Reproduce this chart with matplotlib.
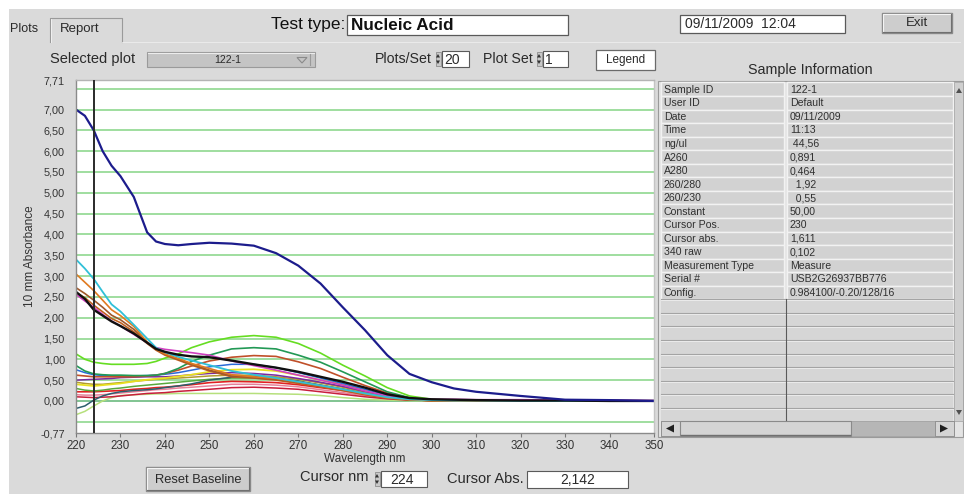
import matplotlib
matplotlib.use('Agg')
import matplotlib.pyplot as plt
from matplotlib.patches import Rectangle, Polygon
import matplotlib.ticker as mticker

plt.rcParams['font.family'] = ['Liberation Sans', 'DejaVu Sans']

# ---------------- data ----------------
wavelength = [220, 222, 224, 226, 228, 230, 233, 236, 238, 240, 243, 246, 250, 255,
              260, 265, 270, 275, 280, 285, 290, 295, 300, 305, 310, 320, 330, 340, 350]

abs_navy    = [7.00, 6.85, 6.50, 6.00, 5.65, 5.40, 4.90, 4.05, 3.83, 3.77, 3.74, 3.77, 3.80, 3.78,
               3.73, 3.55, 3.25, 2.82, 2.25, 1.70, 1.10, 0.65, 0.45, 0.30, 0.22, 0.12, 0.03, 0.02, 0.00]
abs_cyan    = [3.40, 3.18, 2.93, 2.62, 2.32, 2.15, 1.83, 1.50, 1.28, 1.17, 1.06, 0.97, 0.86, 0.72,
               0.63, 0.55, 0.46, 0.37, 0.28, 0.18, 0.09, 0.04, 0.02, 0.01, 0.01, 0.00, 0.00, 0.00, 0.00]
abs_orange  = [3.05, 2.85, 2.65, 2.42, 2.19, 2.05, 1.79, 1.42, 1.25, 1.13, 1.02, 0.90, 0.78, 0.63,
               0.58, 0.54, 0.46, 0.37, 0.28, 0.17, 0.08, 0.03, 0.01, 0.01, 0.00, 0.00, 0.00, 0.00, 0.00]
abs_brown   = [2.72, 2.58, 2.42, 2.25, 2.06, 1.95, 1.72, 1.40, 1.25, 1.12, 1.00, 0.88, 0.74, 0.60,
               0.56, 0.52, 0.45, 0.36, 0.27, 0.17, 0.08, 0.03, 0.01, 0.01, 0.00, 0.00, 0.00, 0.00, 0.00]
abs_rust    = [2.60, 2.48, 2.30, 2.14, 1.98, 1.88, 1.66, 1.38, 1.22, 1.10, 0.98, 0.86, 0.72, 0.58,
               0.55, 0.50, 0.42, 0.34, 0.25, 0.15, 0.07, 0.03, 0.01, 0.01, 0.00, 0.00, 0.00, 0.00, 0.00]
abs_black   = [2.62, 2.45, 2.19, 2.05, 1.91, 1.80, 1.62, 1.40, 1.25, 1.18, 1.11, 1.07, 1.05, 0.97,
               0.88, 0.80, 0.70, 0.58, 0.46, 0.32, 0.16, 0.07, 0.04, 0.03, 0.02, 0.01, 0.01, 0.00, 0.00]
abs_magenta = [2.56, 2.40, 2.25, 2.08, 1.92, 1.80, 1.60, 1.40, 1.28, 1.24, 1.20, 1.16, 1.10, 0.96,
               0.85, 0.74, 0.62, 0.50, 0.38, 0.24, 0.12, 0.06, 0.04, 0.04, 0.03, 0.03, 0.02, 0.02, 0.01]
abs_lime    = [1.13, 1.00, 0.93, 0.90, 0.88, 0.88, 0.88, 0.90, 0.95, 1.03, 1.13, 1.28, 1.42, 1.53,
               1.57, 1.53, 1.38, 1.15, 0.86, 0.60, 0.32, 0.12, 0.04, 0.02, 0.01, 0.00, 0.00, 0.00, 0.00]
abs_teal    = [0.85, 0.72, 0.65, 0.63, 0.62, 0.62, 0.61, 0.61, 0.62, 0.66, 0.78, 0.95, 1.10, 1.25,
               1.28, 1.25, 1.10, 0.93, 0.70, 0.46, 0.22, 0.08, 0.03, 0.01, 0.00, 0.00, 0.00, 0.00, 0.00]
abs_sienna  = [0.62, 0.60, 0.58, 0.58, 0.58, 0.58, 0.58, 0.60, 0.62, 0.66, 0.74, 0.84, 0.96, 1.05,
               1.09, 1.07, 0.94, 0.78, 0.57, 0.37, 0.19, 0.07, 0.02, 0.01, 0.00, 0.00, 0.00, 0.00, 0.00]
abs_yellow  = [0.40, 0.38, 0.36, 0.38, 0.40, 0.42, 0.47, 0.51, 0.53, 0.55, 0.59, 0.63, 0.70, 0.75,
               0.76, 0.72, 0.62, 0.50, 0.40, 0.26, 0.13, 0.05, 0.02, 0.01, 0.00, 0.00, 0.00, 0.00, 0.00]
abs_blue    = [0.75, 0.68, 0.63, 0.61, 0.60, 0.60, 0.60, 0.61, 0.62, 0.64, 0.68, 0.74, 0.82, 0.88,
               0.88, 0.80, 0.68, 0.55, 0.42, 0.28, 0.14, 0.06, 0.02, 0.01, 0.00, 0.00, 0.00, 0.00, 0.00]
abs_purple  = [0.50, 0.51, 0.52, 0.53, 0.54, 0.56, 0.57, 0.58, 0.58, 0.58, 0.60, 0.63, 0.66, 0.68,
               0.66, 0.62, 0.54, 0.45, 0.35, 0.23, 0.12, 0.05, 0.02, 0.01, 0.00, 0.00, 0.00, 0.00, 0.00]
abs_red     = [0.22, 0.22, 0.22, 0.23, 0.24, 0.25, 0.28, 0.30, 0.32, 0.33, 0.36, 0.39, 0.44, 0.47,
               0.46, 0.44, 0.39, 0.32, 0.25, 0.16, 0.08, 0.03, 0.01, 0.00, 0.00, 0.00, 0.00, 0.00, 0.00]
abs_crimson = [0.10, 0.09, 0.08, 0.09, 0.10, 0.12, 0.15, 0.18, 0.19, 0.20, 0.23, 0.25, 0.28, 0.32,
               0.33, 0.31, 0.28, 0.22, 0.16, 0.10, 0.05, 0.02, 0.01, 0.00, 0.00, 0.00, 0.00, 0.00, 0.00]
abs_slate   = [-0.18, -0.12, 0.02, 0.12, 0.18, 0.22, 0.25, 0.27, 0.29, 0.32, 0.36, 0.41, 0.50, 0.57,
               0.58, 0.55, 0.48, 0.38, 0.28, 0.17, 0.08, 0.03, 0.01, 0.00, 0.00, 0.00, 0.00, 0.00, 0.00]
abs_pale    = [-0.33, -0.25, -0.12, 0.00, 0.08, 0.13, 0.15, 0.16, 0.17, 0.17, 0.18, 0.18, 0.18, 0.18,
               0.18, 0.17, 0.16, 0.13, 0.08, 0.04, 0.02, 0.01, 0.00, 0.00, 0.00, 0.00, 0.00, 0.00, 0.00]
abs_olive   = [0.45, 0.42, 0.40, 0.40, 0.42, 0.44, 0.47, 0.50, 0.52, 0.53, 0.55, 0.57, 0.60, 0.62,
               0.62, 0.58, 0.52, 0.43, 0.33, 0.21, 0.10, 0.04, 0.01, 0.00, 0.00, 0.00, 0.00, 0.00, 0.00]
abs_green2  = [0.30, 0.26, 0.24, 0.26, 0.29, 0.31, 0.35, 0.38, 0.40, 0.42, 0.45, 0.48, 0.52, 0.55,
               0.55, 0.52, 0.46, 0.38, 0.29, 0.19, 0.09, 0.03, 0.01, 0.00, 0.00, 0.00, 0.00, 0.00, 0.00]
abs_pink    = [0.15, 0.14, 0.14, 0.15, 0.17, 0.19, 0.22, 0.25, 0.27, 0.28, 0.31, 0.33, 0.36, 0.40,
               0.40, 0.38, 0.34, 0.27, 0.20, 0.13, 0.06, 0.03, 0.01, 0.00, 0.00, 0.00, 0.00, 0.00, 0.00]

x_ticks = [220, 230, 240, 250, 260, 270, 280, 290, 300, 310, 320, 330, 340, 350]
y_ticks = [-0.77, 0.0, 0.5, 1.0, 1.5, 2.0, 2.5, 3.0, 3.5, 4.0, 4.5, 5.0, 5.5, 6.0, 6.5, 7.0, 7.71]
cursor_nm = 224
cursor_abs = "2,142"

info_labels = ["Sample ID", "User ID", "Date", "Time", "ng/ul", "A260", "A280", "260/280",
               "260/230", "Constant", "Cursor Pos.", "Cursor abs.", "340 raw",
               "Measurement Type", "Serial #", "Config."]
info_values = ["122-1", "Default", "09/11/2009", "11:13", " 44,56", "0,891", "0,464", "  1,92",
               "  0,55", "50,00", "230", "1,611", "0,102", "Measure", "USB2G26937BB776",
               "0.984100/-0.20/128/16"]

# (series, colour, linewidth) in draw order
series = [
    (abs_pale, '#b6e07c', 1.1), (abs_pink, '#e8809a', 1.1), (abs_crimson, '#c81e3c', 1.1),
    (abs_red, '#e02222', 1.2), (abs_green2, '#58a83c', 1.1), (abs_slate, '#2c5e6c', 1.1),
    (abs_olive, '#b09a30', 1.1), (abs_purple, '#7a2aa0', 1.1), (abs_yellow, '#e8e020', 1.3),
    (abs_blue, '#2a6ad8', 1.1), (abs_sienna, '#c0502a', 1.2), (abs_teal, '#229955', 1.2),
    (abs_lime, '#66dd22', 1.2), (abs_rust, '#c06020', 1.2), (abs_brown, '#a0582a', 1.2),
    (abs_orange, '#e07a20', 1.2), (abs_magenta, '#d040c0', 1.2), (abs_cyan, '#30c0d8', 1.3),
    (abs_black, '#101010', 1.7), (abs_navy, '#1c1c8c', 1.6),
]

# ---------------- figure ----------------
W, H = 964, 494
fig = plt.figure(figsize=(W / 100, H / 100), dpi=100)
fig.patch.set_facecolor('white')

ui = fig.add_axes([0, 0, 1, 1])
ui.set_xlim(0, W)
ui.set_ylim(H, 0)
ui.axis('off')

PANEL = '#dadada'
TXT = '#2a2a2a'
ui.add_patch(Rectangle((9, 9), W - 9, H - 9, fc=PANEL, ec='none'))


def rect(x0, y0, x1, y1, fc='white', ec='#6a6a6a', lw=0.8, z=1):
    ui.add_patch(Rectangle((x0, y0), x1 - x0, y1 - y0, fc=fc, ec=ec, lw=lw, zorder=z))


def button(x0, y0, x1, y1, label, size=7.5):
    rect(x0, y0, x1, y1, fc='#cdcdcd', ec='#8a8a8a', lw=1.0)
    ui.plot([x0 + 1, x0 + 1, x1 - 1], [y1 - 1, y0 + 1, y0 + 1], color='#f4f4f4', lw=0.8, zorder=2)
    ui.plot([x0 + 1, x1 - 1, x1 - 1], [y1 - 1, y1 - 1, y0 + 1], color='#707070', lw=0.8, zorder=2)
    ui.text((x0 + x1) / 2, (y0 + y1) / 2 + 0.5, label, ha='center', va='center', fontsize=size,
            color=TXT, zorder=3)


def spinner(x, y0, y1):
    ym = (y0 + y1) / 2
    ui.add_patch(Rectangle((x - 2.5, y0 + 1), 5, y1 - y0 - 2, fc='#c8c8c8', ec='#808080', lw=0.5, zorder=2))
    ui.add_patch(Polygon([(x - 2, ym - 1.5), (x + 2, ym - 1.5), (x, ym - 5)], closed=True,
                         fc='#303030', ec='none', zorder=3))
    ui.add_patch(Polygon([(x - 2, ym + 1.5), (x + 2, ym + 1.5), (x, ym + 5)], closed=True,
                         fc='#303030', ec='none', zorder=3))


# tabs
ui.text(10, 29, 'Plots', fontsize=9, color=TXT, va='center')
ui.plot([50, 50, 122, 122], [42, 18, 18, 42], color='#9a9a9a', lw=0.8)
ui.plot([51, 51], [19, 42], color='#f4f4f4', lw=0.6)
ui.text(60, 29, 'Report', fontsize=9.5, color=TXT, va='center')
ui.plot([122, 960], [42, 42], color='#eeeeee', lw=0.6)

# test type
ui.text(345, 24, 'Test type:', fontsize=12.5, color='#111111', ha='right', va='center')
rect(347, 15, 568, 35, fc='white', ec='#5a5a5a', lw=0.9)
ui.text(351, 25.5, 'Nucleic Acid', fontsize=12.3, fontweight='bold', color='#111111', va='center')

# date and exit
rect(680, 15, 845, 33, fc='white', ec='#5a5a5a', lw=0.9)
ui.text(685, 24.5, '09/11/2009  12:04', fontsize=10, color=TXT, va='center')
button(882, 13, 952, 33, 'Exit', size=9.5)

# row 2 controls
ui.text(50, 59, 'Selected plot', fontsize=10.5, color=TXT, va='center')
rect(147, 52, 315, 67, fc='#c4c4c4', ec='#9a9a9a', lw=0.8)
ui.plot([148, 314], [53, 53], color='#ececec', lw=0.8)
ui.text(228, 60, '122-1', fontsize=7.5, color=TXT, ha='center', va='center')
ui.add_patch(Polygon([(297, 57.5), (307, 57.5), (302, 63)], closed=True, fc='none', ec='#8a8a8a', lw=0.8))
ui.plot([310, 310], [54, 65], color='#9a9a9a', lw=0.8)

ui.text(375, 59, 'Plots/Set', fontsize=10.2, color=TXT, va='center')
spinner(438, 51, 67)
rect(442, 51, 469, 67, fc='white', ec='#5a5a5a', lw=0.8)
ui.text(444, 59.5, '20', fontsize=10, color=TXT, va='center')

ui.text(483, 59, 'Plot Set', fontsize=10.2, color=TXT, va='center')
spinner(539, 51, 67)
rect(543, 51, 568, 67, fc='white', ec='#5a5a5a', lw=0.8)
ui.text(545, 59.5, '1', fontsize=10, color=TXT, va='center')

rect(596, 50, 655, 70, fc='white', ec='#6a6a6a', lw=0.9)
ui.text(625.5, 60.5, 'Legend', fontsize=8.5, color=TXT, ha='center', va='center')

# sample information table
ui.text(810, 70, 'Sample Information', fontsize=10.3, color=TXT, ha='center', va='center')
rect(658, 81, 963, 437, fc='#e4e4e4', ec='#9a9a9a', lw=0.8)
row_h = 13.55
top = 82.5
n_rows = 25
for i in range(n_rows):
    y0 = top + i * row_h
    if i < len(info_labels):
        rect(661, y0, 784, y0 + row_h, fc='#d2d2d2', ec='#f2f2f2', lw=1.0)
        rect(787, y0, 953, y0 + row_h, fc='#d2d2d2', ec='#f2f2f2', lw=1.0)
        ui.text(664, y0 + row_h / 2 + 0.5, info_labels[i], fontsize=7.6, color='#303030', va='center')
        ui.text(790, y0 + row_h / 2 + 0.5, info_values[i], fontsize=7.6, color='#303030', va='center')
    else:
        rect(661, y0, 953, y0 + row_h, fc='#d6d6d6', ec='none', lw=0)
        ui.plot([661, 953], [y0, y0], color='#a4a4a4', lw=0.8)
        ui.plot([661, 953], [y0 + 1, y0 + 1], color='#efefef', lw=0.6)
ui.plot([785.5, 785.5], [top + 16 * row_h, 420], color='#5a5a5a', lw=0.8)
# vertical scrollbar
rect(954, 82, 963, 421, fc='#cfcfcf', ec='#a0a0a0', lw=0.5)
ui.add_patch(Polygon([(956, 93), (962, 93), (959, 88)], closed=True, fc='#505050', ec='none', zorder=3))
ui.add_patch(Polygon([(956, 410), (962, 410), (959, 415)], closed=True, fc='#505050', ec='none', zorder=3))
# horizontal scrollbar
rect(661, 421, 954, 436, fc='#b6b6b6', ec='#a0a0a0', lw=0.6)
rect(661, 421, 680, 436, fc='#d4d4d4', ec='#8a8a8a', lw=0.6)
ui.add_patch(Polygon([(666, 428.5), (674, 424.5), (674, 432.5)], closed=True, fc='#202020', ec='none', zorder=3))
rect(680, 421, 851, 436, fc='#d4d4d4', ec='#8a8a8a', lw=0.8)
ui.plot([681, 850], [434.5, 434.5], color='#707070', lw=1.0)
rect(935, 421, 954, 436, fc='#d4d4d4', ec='#8a8a8a', lw=0.6)
ui.add_patch(Polygon([(948, 428.5), (940, 424.5), (940, 432.5)], closed=True, fc='#202020', ec='none', zorder=3))

# bottom controls
button(146, 467, 250, 491, 'Reset Baseline', size=9.3)
ui.text(300, 477, 'Cursor nm', fontsize=10.5, color=TXT, va='center')
spinner(377, 471, 487)
rect(381, 471, 427, 487, fc='white', ec='#5a5a5a', lw=0.8)
ui.text(390, 479.5, str(cursor_nm), fontsize=10, color=TXT, va='center')
ui.text(447, 479, 'Cursor Abs.', fontsize=10.5, color=TXT, va='center')
rect(527, 471, 628, 488, fc='white', ec='#5a5a5a', lw=0.8)
ui.text(577.5, 480, cursor_abs, fontsize=10, color=TXT, ha='center', va='center')

# ---------------- plot ----------------
L, R, T, B = 76, 654, 80, 433
ax = fig.add_axes([L / W, 1 - B / H, (R - L) / W, (B - T) / H])
ax.set_facecolor('white')
ax.set_xlim(220, 350)
ax.set_ylim(-0.77, 7.71)

ax.yaxis.set_minor_locator(mticker.MultipleLocator(0.5))
ax.yaxis.remove_overlapping_locs = False
ax.grid(which='minor', axis='y', color='#8fd88f', lw=1.2, zorder=0)
ax.axhline(0, color='#3558a8', lw=1.3, zorder=1)

for vals, col, lw in series:
    ax.plot(wavelength, vals, color=col, lw=lw, zorder=2)

ax.axvline(cursor_nm, color='#2a2a2a', lw=1.4, zorder=4)

ax.set_xticks(x_ticks)
ax.set_yticks(y_ticks)
ax.yaxis.set_major_formatter(mticker.FuncFormatter(lambda v, p: f"{v:.2f}".replace('.', ',')))
ax.tick_params(axis='y', which='both', length=0, labelsize=7.8, colors='#333333', pad=8)
ax.tick_params(axis='x', which='major', length=3, width=0.8, color='#777777', labelsize=8.3,
               labelcolor='#333333', pad=2)
ax.tick_params(axis='x', which='minor', length=0)
for side, c in [('left', '#8a8a8a'), ('bottom', '#8a8a8a'), ('top', '#b4b4b4'), ('right', '#c4c4c4')]:
    ax.spines[side].set_color(c)
    ax.spines[side].set_linewidth(1.0)

ax.set_xlabel('Wavelength nm', fontsize=8.5, color='#333333', labelpad=1)
ax.set_ylabel('10 mm Absorbance', fontsize=8.5, color='#333333', labelpad=3)

fig.savefig('out.png', dpi=100, facecolor=fig.get_facecolor())
